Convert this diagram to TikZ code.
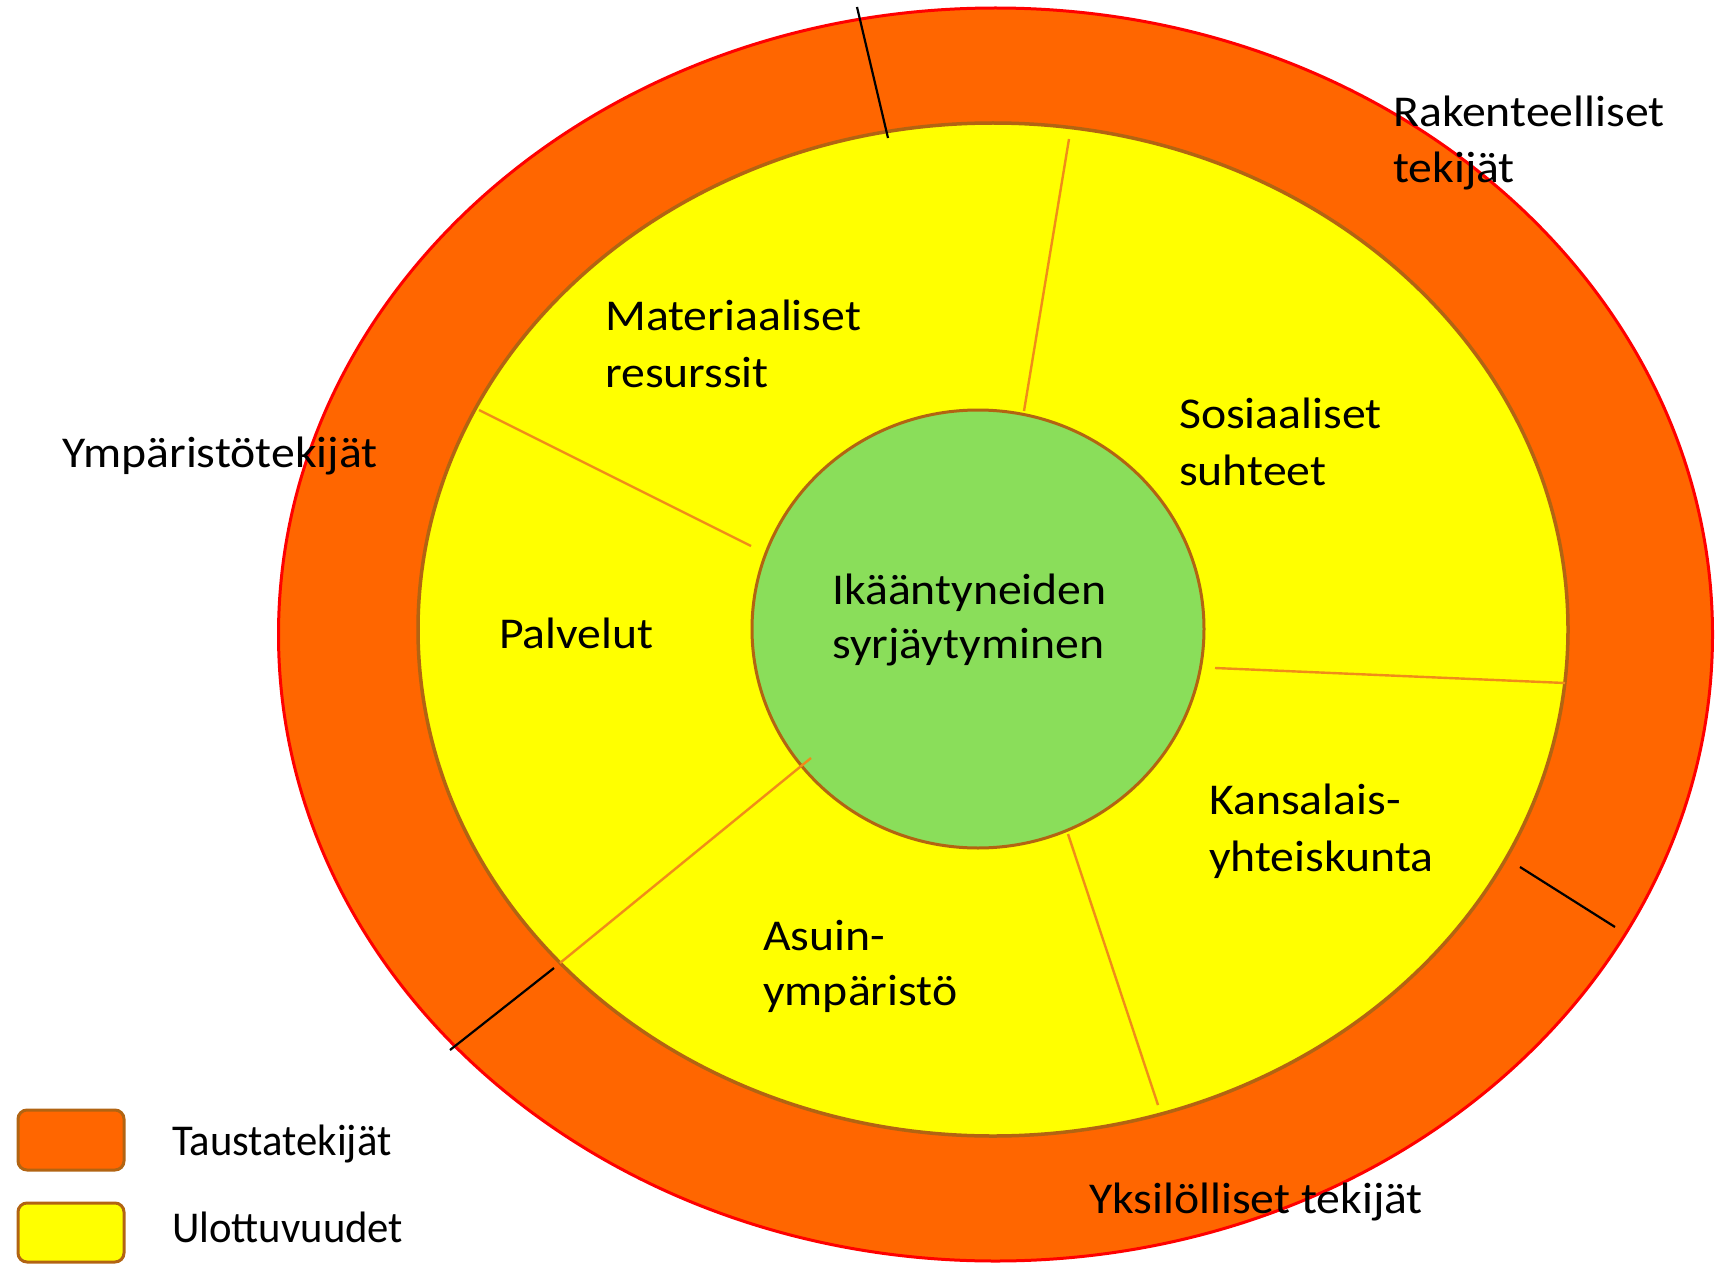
\documentclass[tikz,border=0pt]{standalone}
\usepackage{fontspec}
\usetikzlibrary{shapes.geometric}
\setmainfont{Carlito}[FakeStretch=1.085]
\newfontfamily\legfont{Carlito}[FakeStretch=0.97]
\definecolor{outerfill}{RGB}{255,102,0}
\definecolor{outerline}{RGB}{255,0,0}
\definecolor{innerfill}{RGB}{255,255,0}
\definecolor{brownline}{RGB}{178,100,18}
\definecolor{greenfill}{RGB}{138,222,90}
\definecolor{radial}{RGB}{240,140,25}
\tikzset{
  lbl/.style={anchor=base west, inner sep=0pt, font=\fontsize{44}{53}\selectfont},
  leglbl/.style={anchor=base west, inner sep=0pt, font=\legfont\fontsize{44}{53}\selectfont},
  radline/.style={draw=radial, line width=2.4pt},
  sepline/.style={draw=black, line width=2.2pt},
  legbox/.style={draw=brownline, line width=3pt, rounded corners=9pt}
}
\begin{document}
\begin{tikzpicture}[x=1pt,y=-1pt]
\useasboundingbox (0,0) rectangle (1716,1268);
% outer ring
\draw[fill=outerfill, draw=outerline, line width=3pt] (995.5,634.5) ellipse [x radius=717pt, y radius=626.5pt];
% inner ellipse
\draw[fill=innerfill, draw=brownline, line width=3.5pt] (993,629.5) ellipse [x radius=575pt, y radius=506.5pt];
% centre
\node[draw=brownline, line width=3pt, fill=greenfill, ellipse, minimum width=452pt, minimum height=438pt, inner sep=0pt, outer sep=0pt] (core) at (978,629) {};
% radial lines
\coordinate (a1) at (1069,139); \coordinate (a2) at (1024,411);
\coordinate (b1) at (479,410);  \coordinate (b2) at (751,546);
\coordinate (c1) at (1215,668); \coordinate (c2) at (1565,683);
\coordinate (d1) at (811,758);  \coordinate (d2) at (560,963);
\coordinate (e1) at (1068,834); \coordinate (e2) at (1158,1105);
\draw[radline] (a1) -- (a2);
\draw[radline] (b1) -- (b2);
\draw[radline] (c1) -- (c2);
\draw[radline] (d1) -- (d2);
\draw[radline] (e1) -- (e2);
% black separators
\coordinate (t1) at (857,7);   \coordinate (t2) at (888,138);
\coordinate (l1) at (554,968); \coordinate (l2) at (450,1050);
\coordinate (r1) at (1520,867);\coordinate (r2) at (1615,927);
\draw[sepline] (t1) -- (t2);
\draw[sepline] (l1) -- (l2);
\draw[sepline] (r1) -- (r2);
% labels
\node[lbl] (rak1) at (1393,127) {Rakenteelliset};
\node[lbl] (rak2) at (1393,183) {tekijät};
\node[lbl] (ymp)  at (62,467) {Ympäristötekijät};
\node[lbl] (mat1) at (605,330) {Materiaaliset};
\node[lbl] (mat2) at (605,387) {resurssit};
\node[lbl] (sos1) at (1179,428) {Sosiaaliset};
\node[lbl] (sos2) at (1179,485) {suhteet};
\node[lbl] (pal)  at (499,648) {Palvelut};
\node[lbl] (ika1) at (832,604) {Ikääntyneiden};
\node[lbl] (ika2) at (832,658) {syrjäytyminen};
\node[lbl] (kan1) at (1209,814) {Kansalais-};
\node[lbl] (kan2) at (1209,871) {yhteiskunta};
\node[lbl] (asu1) at (763,950) {Asuin-};
\node[lbl] (asu2) at (763,1005) {ympäristö};
\node[lbl] (yks)  at (1089,1213) {Yksilölliset tekijät};
% legend
\draw[legbox, fill=outerfill] (18,1110) rectangle (124,1170);
\draw[legbox, fill=innerfill] (18,1203) rectangle (124,1262);
\node[leglbl] (tau) at (172,1155) {Taustatekijät};
\node[leglbl] (ulo) at (172,1242) {Ulottuvuudet};
\end{tikzpicture}
\end{document}
